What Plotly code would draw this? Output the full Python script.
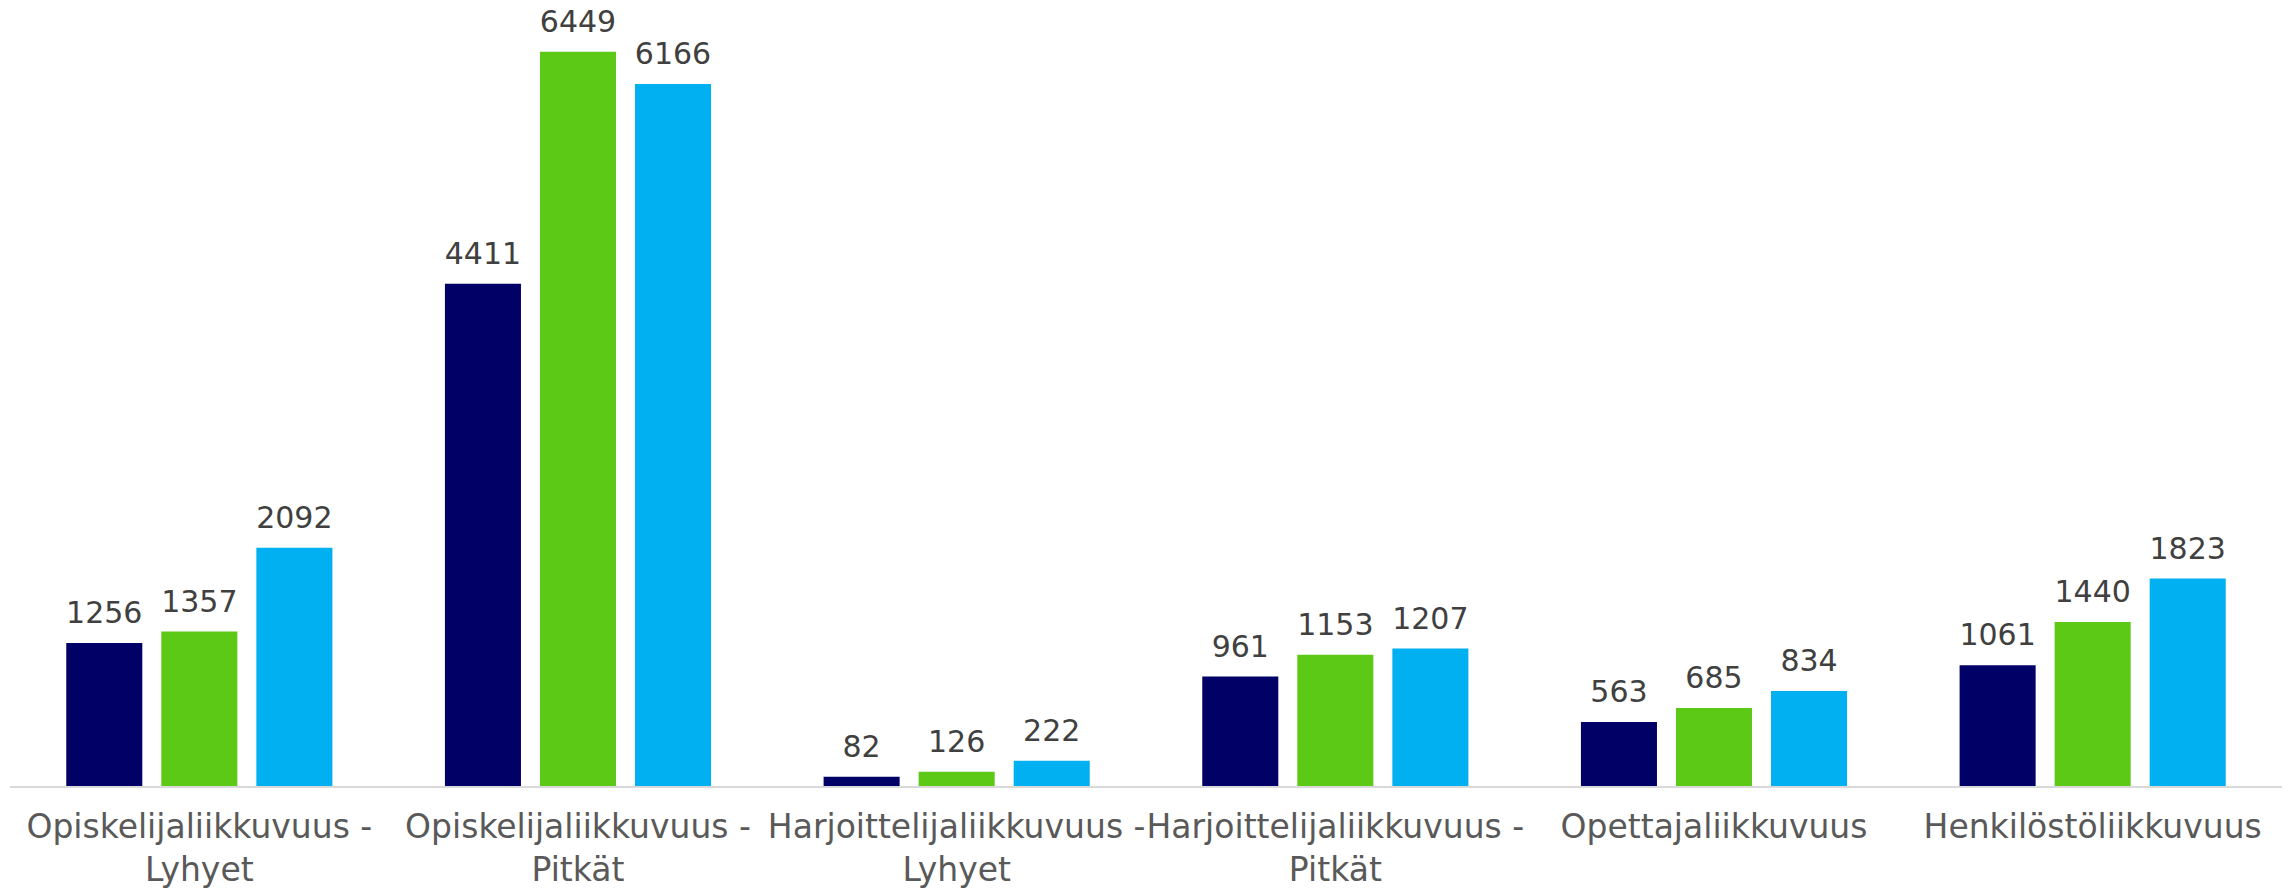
import plotly.graph_objects as go

# Categories (Finnish labels, line break as in the original)
categories = [
    "Opiskelijaliikkuvuus -<br>Lyhyet",
    "Opiskelijaliikkuvuus -<br>Pitkät",
    "Harjoittelijaliikkuvuus -<br>Lyhyet",
    "Harjoittelijaliikkuvuus -<br>Pitkät",
    "Opettajaliikkuvuus",
    "Henkilöstöliikkuvuus",
]

series_names = ["Sarja 1", "Sarja 2", "Sarja 3"]
series_1 = [1256, 4411, 82, 961, 563, 1061]
series_2 = [1357, 6449, 126, 1153, 685, 1440]
series_3 = [2092, 6166, 222, 1207, 834, 1823]
colors = ["#000066", "#5BC915", "#00B0F0"]

GAP = 0.247

fig = go.Figure()
for name, vals, col in zip(series_names, [series_1, series_2, series_3], colors):
    fig.add_trace(go.Bar(
        x=categories, y=vals, name=name,
        marker=dict(color=col, line=dict(width=0)),
        hoverinfo="x+y",
    ))

# value labels, grouped the same way as the bars so they sit over each bar
for name, vals in zip(series_names, [series_1, series_2, series_3]):
    fig.add_trace(go.Scatter(
        x=categories, y=vals, name=name, orientation="v",
        mode="markers+text", text=vals, textposition="top center",
        marker=dict(size=18, opacity=0), cliponaxis=False,
        textfont=dict(family="DejaVu Sans", size=30, color="#404040"),
        hoverinfo="skip", showlegend=False,
    ))

# page body has an 8px margin, so the figure is a bit smaller than the window
fig.update_layout(
    width=2284, height=880,
    barmode="group", bargap=GAP, bargroupgap=0.2,
    scattermode="group", scattergap=GAP,
    showlegend=False,
    plot_bgcolor="white", paper_bgcolor="white",
    margin=dict(l=2, r=10, t=3, b=102),
    font=dict(family="DejaVu Sans"),
    xaxis=dict(
        automargin=False, tickangle=0, range=[-0.5, 5.5],
        showline=True, linecolor="#D9D9D9", linewidth=2,
        ticks="outside", ticklen=10, tickcolor="rgba(0,0,0,0)",
        tickfont=dict(family="DejaVu Sans", size=33, color="#595959"),
    ),
    yaxis=dict(range=[0, 6807], visible=False, showgrid=False, zeroline=False,
               automargin=False),
)

fig.write_html("out.html")
